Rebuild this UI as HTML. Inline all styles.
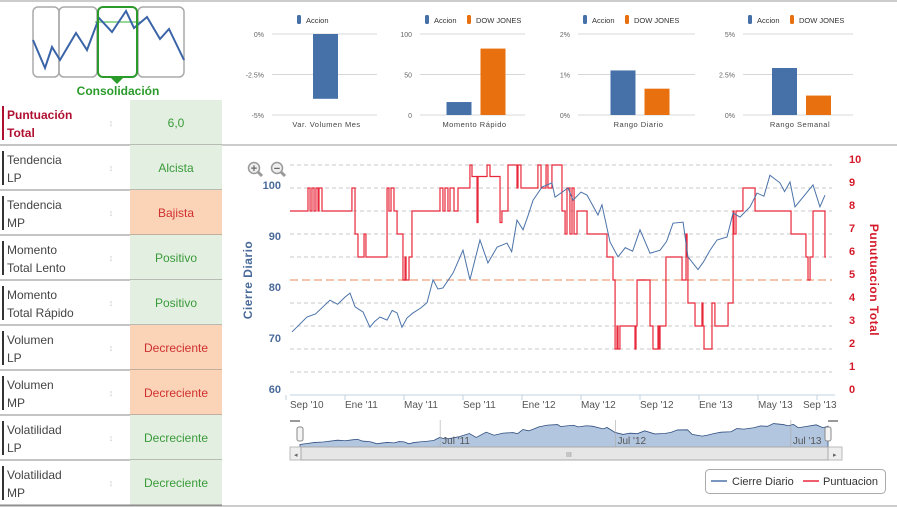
<!DOCTYPE html>
<html><head><meta charset="utf-8"><style>
body{margin:0;background:#fff;}
svg{display:block;font-family:"Liberation Sans",sans-serif;}
</style></head><body>
<svg id="root" width="897" height="507" viewBox="0 0 897 507" xmlns="http://www.w3.org/2000/svg">
<line x1="0" y1="1" x2="897" y2="1" stroke="#999"/>
<line x1="222" y1="145" x2="897" y2="145" stroke="#999"/>
<line x1="0" y1="506" x2="897" y2="506" stroke="#999"/>
<g>
 <rect x="33" y="7" width="26" height="70" rx="5" fill="none" stroke="#aaa" stroke-width="1.5"/>
 <rect x="59" y="7" width="38" height="70" rx="5" fill="none" stroke="#aaa" stroke-width="1.5"/>
 <rect x="138" y="7" width="46" height="70" rx="5" fill="none" stroke="#aaa" stroke-width="1.5"/>
 <line x1="95" y1="22" x2="140" y2="22" stroke="#7c7" stroke-width="1.5"/>
 <polyline points="33,40 45,68 52,47 60,60 76,33 87,50 99,18 112,32 126,11 134,28 147,17 160,39 169,29 184,60" fill="none" stroke="#3a64a8" stroke-width="2"/>
 <rect x="98" y="7" width="39" height="70" rx="5" fill="none" stroke="#2a9a2a" stroke-width="2"/>
 <polygon points="110,77 124,77 117,84" fill="#2a9a2a"/>
 <text x="118" y="95" text-anchor="middle" font-size="12" font-weight="bold" fill="#2a9a2a">Consolidación</text>
</g>
<g id="table"></g>
<g id="bars"></g>
<g id="main"></g>
</svg>
<script>
const NS='http://www.w3.org/2000/svg';
function mk(p,t,a,txt){const e=document.createElementNS(NS,t);for(const k in a)e.setAttribute(k,a[k]);if(txt!==undefined)e.textContent=txt;p.appendChild(e);return e;}

// ---------- table ----------
const rowLabels1=['Puntuación','Tendencia','Tendencia','Momento','Momento','Volumen','Volumen','Volatilidad','Volatilidad'];
const rowLabels2=['Total','LP','MP','Total Lento','Total Rápido','LP','MP','LP','MP'];
const rowValues=['6,0','Alcista','Bajista','Positivo','Positivo','Decreciente','Decreciente','Decreciente','Decreciente'];
const rowGood=[1,1,0,1,1,0,0,1,1];
const tbl=document.getElementById('table');
rowLabels1.forEach((l,i)=>{
  const y=100+i*45;
  const g=mk(tbl,'g',{});
  
  
  mk(g,'rect',{x:130,y:y,width:92,height:45,fill:rowGood[i]?'#e3f0e1':'#fbd3b6'});
  mk(g,'rect',{x:2,y:y+6,width:2,height:34,fill:i==0?'#b01030':'#333'});
  const first=i==0;
  mk(g,'text',{x:7,y:y+19,'font-size':12,'font-weight':first?'bold':'normal',fill:first?'#b01030':'#444'},l);
  mk(g,'text',{x:7,y:y+37,'font-size':12,'font-weight':first?'bold':'normal',fill:first?'#b01030':'#444'},rowLabels2[i]);
  mk(g,'text',{x:111,y:y+26,'font-size':9,fill:'#ccc','text-anchor':'middle'},'↕');
  const v=mk(g,'text',{x:176,y:y+27,'font-size':12,'text-anchor':'middle',fill:rowGood[i]?'#3a9a3a':'#d03030'},rowValues[i]);
  
  
  mk(g,'line',{x1:0,y1:y+45,x2:222,y2:y+45,stroke:'#888'});
});

// ---------- bar charts ----------
const barTitles=['Var. Volumen Mes','Momento Rápido','Rango Diario','Rango Semanal'];
const barAccion=[-4.0,16,1.1,2.9];
const barDow=[null,82,0.65,1.2];
const barMin=[-5,0,0,0];
const barMax=[0,100,2,5];
const barTicks=[['0%','-2.5%','-5%'],['100','50','0'],['2%','1%','0%'],['5%','2.5%','0%']];
const chartLeft=[272,420,578,743];
const chartW=[105,105,117,110];
const bars=document.getElementById('bars');
barTitles.forEach((t,i)=>{
  const g=mk(bars,'g',{});
  
  
  const x0=chartLeft[i],w=chartW[i],top=34,bot=115;
  const ys=v=>bot-(v-barMin[i])/(barMax[i]-barMin[i])*(bot-top);
  barTicks[i].forEach((tk,j)=>{
    const yy=top+j*(bot-top)/2;
    mk(g,'line',{x1:x0,y1:yy,x2:x0+w,y2:yy,stroke:'#d8d8d8'});
    mk(g,'text',{x:x0-8,y:yy+3,'font-size':7,fill:'#666','text-anchor':'end'},tk);
  });
  const two=barDow[i]!==null;
  const cx=x0+w/2;
  const bw=25;
  const ax=two?cx-26:cx-bw/2+1;
  const base=ys(Math.max(barMin[i],Math.min(barMax[i],0)));
  const ya=ys(barAccion[i]);
  const b1=mk(g,'rect',{x:ax,y:Math.min(ya,base),width:bw,height:Math.abs(base-ya),fill:'#4670a8'});
  
  
  if(two){const yd=ys(barDow[i]);
    const b2=mk(g,'rect',{x:cx+8,y:yd,width:bw,height:base-yd,fill:'#e8700f'});
    
    }
  mk(g,'text',{x:cx+2,y:127,'font-size':7.5,fill:'#444','text-anchor':'middle','letter-spacing':'0.5'},t);
  const lx=two?x0+5:x0+25;
  const l1=mk(g,'g',{});
  
  
  mk(l1,'rect',{x:lx,y:15,width:4,height:9,rx:1.5,fill:'#4670a8'});
  mk(l1,'text',{x:lx+9,y:23,'font-size':7.5,fill:'#333'},'Accion');
  if(two){const l2=mk(g,'g',{});
    
    
    mk(l2,'rect',{x:lx+42,y:15,width:4,height:9,rx:1.5,fill:'#e8700f'});
    mk(l2,'text',{x:lx+51,y:23,'font-size':7.5,fill:'#333'},'DOW JONES');}
});

// ---------- main chart ----------
// months since Sep 2010
const closeT=[0.41,0.9,1.42,2.0,2.98,3.5,4.0,4.34,4.68,5.22,5.69,6.0,6.37,6.85,7.2,7.53,7.86,8.2,8.61,9.1,9.56,9.97,10.3,10.64,11.32,12.0,12.47,13.15,13.69,14.31,14.98,15.3,15.66,16.07,16.4,16.75,17.36,18.03,18.24,19.12,19.46,20.0,20.41,21.15,21.42,21.97,22.51,23.0,23.5,24.0,24.68,25.36,25.8,26.24,26.92,27.25,27.93,28.3,28.75,29.22,29.9,30.31,30.78,31.46,31.93,32.4,32.81,33.49,33.8,34.17,34.51,35.05,35.73,36.2,36.54];
const closeV=[71.8,73.2,74.7,75.3,78,77.2,78.6,79.4,76.7,75.7,72.7,73.8,74.7,74.1,76,75.5,72.7,74.5,75.5,76.4,77.5,82,80.2,80.4,83.3,87.8,82,89.8,85.3,88.4,89.2,87.5,93.7,91.8,94.5,97.6,100.2,101,98.2,100,97.6,99.2,98.6,94.7,96.7,89.4,86.5,88.3,87.6,91.8,87.2,87.8,89.5,93.1,93.3,86.5,84,85.5,87.8,89.8,90.4,95.1,94.3,96.3,99,98.4,102.5,101,99.3,101.2,96.3,98.2,100.6,96.3,98.6];
const scoreT=[0.27,1.49,1.63,1.76,1.9,2.03,2.17,2.24,2.44,4.47,4.68,4.88,5.29,5.42,6.85,6.98,7.12,7.32,7.53,7.93,8.07,8.14,8.34,8.54,10.44,10.64,10.78,10.98,11.12,11.39,11.66,12.47,12.61,12.95,13.02,13.63,13.83,14.51,14.64,15.05,15.66,15.73,15.93,17.08,17.29,17.63,17.76,18.03,18.71,18.92,19.05,19.25,19.39,19.53,19.73,20.41,21.76,22.17,22.31,22.44,22.51,22.64,23.66,23.73,23.8,24.68,24.88,25.22,25.29,25.36,25.76,26.85,27.12,27.19,27.25,27.73,28.2,28.27,28.34,28.88,29.08,29.97,30.31,30.37,30.51,30.98,31.8,34.24,35.25,35.39,35.53,35.73,36.54,36.61];
const scoreV=[8,9,8,9,8,9,8,9,8,9,7,6,7,6,9,8,9,8,7,5,6,5,6,8,9,8,9,8,9,8,9,10,9.5,7.5,9.5,10,9.5,7.5,8,10,9,10,9,10,9,10,9,10,8,7,9,7,9,7,8,7,6,5,2,3,2,3,2,3,5,3,2,3,2,3,6,5,7,6,4,3,4,3,2,4,3,4,8,7,8,9,8,7,6,5,6,8,6,6];
const xLabels=["Sep '10","Ene '11","May '11","Sep '11","Ene '12","May '12","Sep '12","Ene '13","May '13","Sep '13"];
const xLabelT=[0,4,8,12,16,20,24,28,32,36];
const leftTicks=[60,70,80,90,100];
const rightTicks=[0,1,2,3,4,5,6,7,8,9,10];
const navLabels=["Jul '11","Jul '12","Jul '13"];
const navLabelT=[10,22,34];

const X=t=>286+t*14.75;
const YL=v=>392-(v-60)*5.1;
const YR=v=>395-v*23;
const m=document.getElementById('main');
rightTicks.forEach(v=>{
  if(v===0)return;
  const gl=mk(m,'line',{x1:290,y1:YR(v),x2:832,y2:YR(v),stroke:v===5?'#f0b090':'#c8c8c8','stroke-dasharray':v===5?'8,4':'4,3','stroke-width':v===5?1.5:1});
  
  
  const t=mk(m,'text',{x:849,y:YR(v)-2,'font-size':11,'font-weight':'bold',fill:'#d41a2a'},String(v));
  
  
});
const z=mk(m,'text',{x:849,y:YR(0)-2,'font-size':11,'font-weight':'bold',fill:'#d41a2a'},'0');


mk(m,'line',{x1:290,y1:395,x2:835,y2:395,stroke:'#c0d0e0'});
leftTicks.forEach(v=>{
  const t=mk(m,'text',{x:281,y:YL(v)+1,'font-size':11,'font-weight':'bold',fill:'#4a6a9a','text-anchor':'end'},String(v));
  
  
});
xLabels.forEach((l,i)=>{
  const x=X(xLabelT[i]);
  mk(m,'line',{x1:x,y1:395,x2:x,y2:400,stroke:'#c0d0e0'});
  const lx=Math.max(290,Math.min(803,x));
  const t=mk(m,'text',{x:lx,y:408,'font-size':10,fill:'#555'},l);
  
  
});
const yt=mk(m,'text',{x:0,y:0,'font-size':12,'font-weight':'bold',fill:'#4a6a9a','text-anchor':'middle',transform:'translate(252,280) rotate(-90)','letter-spacing':'0.5'},'Cierre Diario');


const rt=mk(m,'text',{x:0,y:0,'font-size':12,'font-weight':'bold',fill:'#d41a2a','text-anchor':'middle',transform:'translate(870,280) rotate(90)','letter-spacing':'0.5'},'Punutuacion Total');


let d='';
scoreT.forEach((t,i)=>{const x=X(t),y=YR(scoreV[i]);d+=i===0?`M${x},${y}`:`H${x}V${y}`;});
const sp=mk(m,'path',{d:d,fill:'none',stroke:'#e8283a','stroke-width':1.2});


const cp=mk(m,'polyline',{points:closeT.map((t,i)=>X(t)+','+YL(closeV[i])).join(' '),fill:'none',stroke:'#4a72a8','stroke-width':1});


[[254,'+'],[277,'−']].forEach(([x,s],i)=>{
  const g=mk(m,'g',{});
  
  
  mk(g,'line',{x1:x+4,y1:172,x2:x+8,y2:176,stroke:'#999','stroke-width':3});
  mk(g,'circle',{cx:x,cy:168,r:5.5,fill:'#eee',stroke:'#999','stroke-width':1.5});
  mk(g,'text',{x:x,y:172,'font-size':11,'font-weight':'bold','text-anchor':'middle',fill:'#666'},s);
});
// navigator
const NX=t=>300+(t-0.41)*(528/36.13);
const NY=v=>447-(v-68)*0.68;
const nav=mk(m,'g',{});


mk(nav,'path',{d:'M'+NX(closeT[0])+',447 '+closeT.map((t,i)=>'L'+NX(t)+','+NY(closeV[i])).join(' ')+' L'+NX(closeT[closeT.length-1])+',447Z',fill:'#b3c6df',stroke:'#2f4f80','stroke-width':0.8});
navLabels.forEach((l,i)=>{const x=NX(navLabelT[i]);
  mk(nav,'line',{x1:x,y1:420,x2:x,y2:447,stroke:'#aaa','stroke-width':0.6});
  mk(nav,'text',{x:x+2,y:444,'font-size':10,fill:'#555'},l);});
mk(nav,'path',{d:'M290,421 H300 M828,421 H838',stroke:'#333'});
[300,828].forEach(x=>{const h=mk(nav,'rect',{x:x-3,y:427,width:6,height:14,rx:2,fill:'#f4f4f4',stroke:'#888'});
  
  });
const sb=mk(nav,'g',{});


mk(sb,'rect',{x:290,y:447,width:552,height:13,fill:'#eee',stroke:'#bbb'});
mk(sb,'rect',{x:301,y:447,width:527,height:13,fill:'#e6e6e6',stroke:'#aaa'});
mk(sb,'text',{x:566,y:457,'font-size':7,fill:'#888'},'III');
mk(sb,'text',{x:294,y:457,'font-size':7,fill:'#666'},'◂');
mk(sb,'text',{x:833,y:457,'font-size':7,fill:'#666'},'▸');
const lg=mk(m,'g',{});


mk(lg,'rect',{x:705.5,y:469.5,width:180,height:24,rx:4,fill:'#fff',stroke:'#aaa'});
const le1=mk(lg,'g',{});


mk(le1,'line',{x1:711,y1:481,x2:727,y2:481,stroke:'#4a72a8','stroke-width':1.5});
mk(le1,'text',{x:732,y:485,'font-size':11,fill:'#333'},'Cierre Diario');
const le2=mk(lg,'g',{});


mk(le2,'line',{x1:803,y1:481,x2:819,y2:481,stroke:'#e8283a','stroke-width':1.5});
mk(le2,'text',{x:823,y:485,'font-size':11,fill:'#333'},'Puntuacion');
</script>
</body></html>
